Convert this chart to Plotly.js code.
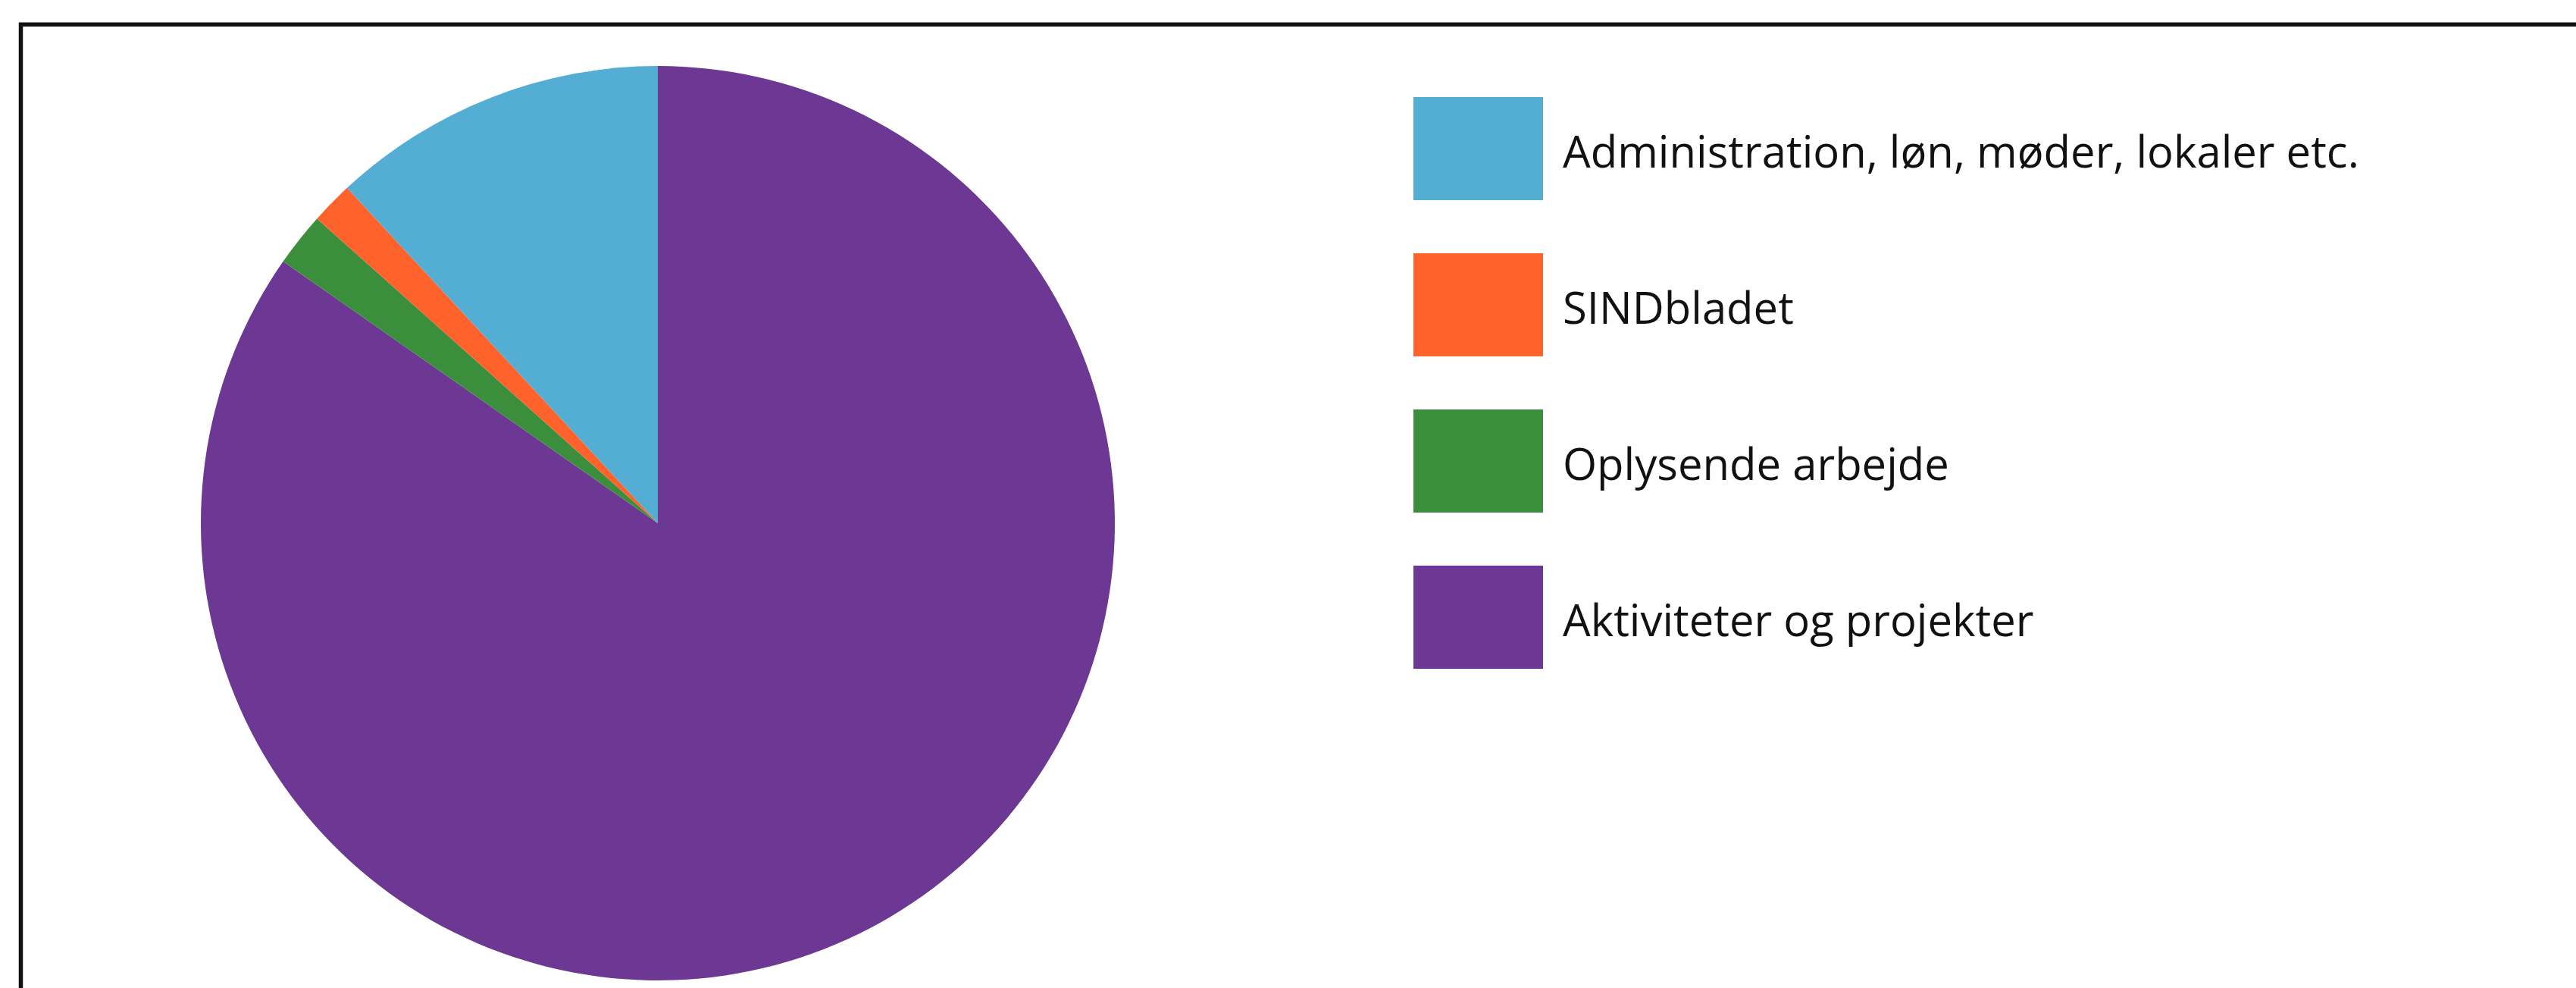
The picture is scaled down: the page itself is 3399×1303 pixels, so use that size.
<!DOCTYPE html>
<html>
<head>
<meta charset="utf-8">
<script src="https://cdn.plot.ly/plotly-3.0.1.min.js"></script>
<style>
  html, body { margin: 0; padding: 0; background: #ffffff; }
  #chart { width: 3399px; height: 1303px; }
</style>
</head>
<body>
<div id="chart"></div>
<script>
// ---- data ----
const categories = [
  "Administration, løn, møder, lokaler etc.",
  "SINDbladet",
  "Oplysende arbejde",
  "Aktiviteter og projekter"
];
const values = [11.9, 1.5, 1.9, 84.7];
const colors = ["#54AED4", "#FF622B", "#3B8E3B", "#6C3893"];

// ---- geometry (pixels) ----
const W = 3399, H = 1303;
const px = x => x / W;
const py = y => 1 - y / H;

const cx = 868, cy = 690, r = 603;

// legend layout
const swX0 = 1865, swX1 = 2036, swY0 = 128, swH = 136, swStep = 206;
const textX = 2060;

const shapes = [];
const annotations = [];

// frame (top + left)
shapes.push({
  type: "path",
  xref: "paper", yref: "paper",
  path: `M ${px(27.5)} ${py(H + 5)} L ${px(27.5)} ${py(32.3)} L ${px(W + 5)} ${py(32.3)}`,
  line: { color: "#111111", width: 5.5 }
});

categories.forEach((name, i) => {
  const y0 = swY0 + i * swStep;
  shapes.push({
    type: "rect", xref: "paper", yref: "paper",
    x0: px(swX0), x1: px(swX1), y0: py(y0), y1: py(y0 + swH),
    fillcolor: colors[i], line: { width: 0 }
  });
  annotations.push({
    xref: "paper", yref: "paper",
    x: px(textX), y: py(y0 + swH / 2 + 2),
    xanchor: "left", yanchor: "middle",
    text: name, showarrow: false,
    font: { family: "Open Sans, sans-serif", size: 58, color: "#111111" }
  });
});

// Slices are drawn clockwise from 12 o'clock in reverse order, so the first
// category ends up just left of 12 o'clock, as in the original chart.
const trace = {
  type: "pie",
  labels: categories.slice().reverse(),
  values: values.slice().reverse(),
  sort: false,
  direction: "clockwise",
  rotation: 0,
  textinfo: "none",
  hoverinfo: "label+percent",
  marker: { colors: colors.slice().reverse(), line: { width: 0 } },
  domain: {
    x: [px(cx - r), px(cx + r)],
    y: [py(cy + r), py(cy - r)]
  },
  showlegend: false
};

const layout = {
  width: W, height: H,
  margin: { l: 0, r: 0, t: 0, b: 0, pad: 0 },
  paper_bgcolor: "#ffffff",
  plot_bgcolor: "#ffffff",
  showlegend: false,
  shapes: shapes,
  annotations: annotations
};

Plotly.newPlot("chart", [trace], layout, { displayModeBar: false, staticPlot: true });
</script>
</body>
</html>
